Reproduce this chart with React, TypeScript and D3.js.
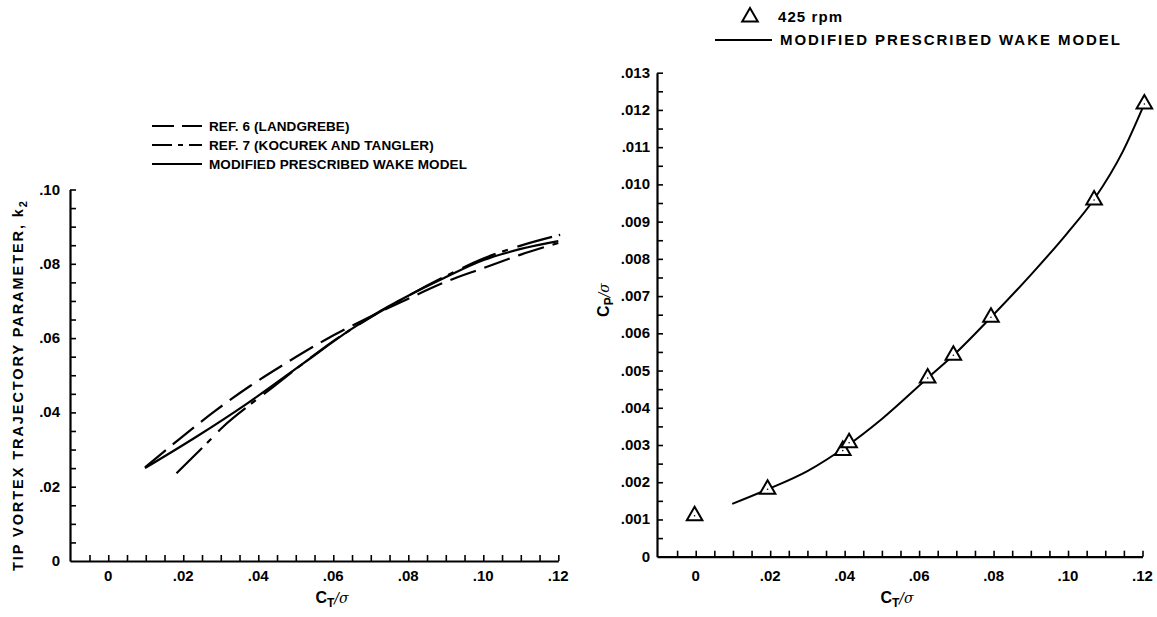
import React, { useEffect, useRef } from "react";
import * as d3 from "d3";

// ---- Left chart: tip vortex trajectory parameter k2 vs CT/sigma ----
const ref6Ct = [0.0098, 0.0187, 0.0285, 0.0378, 0.0476, 0.0578, 0.0689, 0.080, 0.0911, 0.0996, 0.1098, 0.1200];
const ref6K2 = [0.0252, 0.0326, 0.0404, 0.0471, 0.0534, 0.0595, 0.0653, 0.0706, 0.0756, 0.0787, 0.0824, 0.0856];
const ref7Ct = [0.0182, 0.0258, 0.0307, 0.0382, 0.0440, 0.0520, 0.0600, 0.0700, 0.0800, 0.0900, 0.1000, 0.1100, 0.1205];
const ref7K2 = [0.0236, 0.0312, 0.0362, 0.0424, 0.0469, 0.0532, 0.0592, 0.0656, 0.0714, 0.0767, 0.0814, 0.0849, 0.0878];
const wakeCt = [0.0098, 0.0236, 0.0369, 0.0520, 0.0645, 0.0707, 0.0800, 0.0894, 0.1001, 0.1100, 0.1200];
const wakeK2 = [0.0250, 0.0335, 0.0423, 0.0532, 0.0622, 0.0662, 0.0714, 0.0761, 0.0810, 0.0840, 0.0861];

const leftXTicks = [0, 0.02, 0.04, 0.06, 0.08, 0.10, 0.12];
const leftYTicks = [0, 0.02, 0.04, 0.06, 0.08, 0.10];
const leftLegend = ["REF. 6 (LANDGREBE)", "REF. 7 (KOCUREK AND TANGLER)", "MODIFIED PRESCRIBED WAKE MODEL"];

// ---- Right chart: CP/sigma vs CT/sigma ----
const rpmCt = [-0.0003, 0.0193, 0.0395, 0.0412, 0.0623, 0.0692, 0.0793, 0.1070, 0.1205];
const rpmCp = [0.00110, 0.00181, 0.00285, 0.00306, 0.00480, 0.00541, 0.00643, 0.00958, 0.01216];
const modelCt = [0.0098, 0.0193, 0.0300, 0.0404, 0.0500, 0.0623, 0.0692, 0.0793, 0.0900, 0.0997, 0.1070, 0.1148, 0.1205];
const modelCp = [0.00142, 0.00181, 0.00230, 0.00296, 0.00370, 0.00480, 0.00541, 0.00643, 0.00757, 0.00868, 0.00960, 0.01090, 0.01216];

const rightXTicks = [0, 0.02, 0.04, 0.06, 0.08, 0.10, 0.12];
const rightYTicks = [0, 0.001, 0.002, 0.003, 0.004, 0.005, 0.006, 0.007, 0.008, 0.009, 0.010, 0.011, 0.012, 0.013];
const rightLegend = ["425 rpm", "MODIFIED PRESCRIBED WAKE MODEL"];

const FONT = "'Liberation Sans', Arial, Helvetica, sans-serif";

function fmt(v: number, digits: number) {
  if (Math.abs(v) < 1e-12) return "0";
  return v.toFixed(digits).replace(/^0\./, ".");
}

export default function App() {
  const ref = useRef<SVGSVGElement | null>(null);

  useEffect(() => {
    const svg = d3.select(ref.current);
    svg.selectAll("*").remove();

    const W = 1157, H = 617;
    svg.append("rect").attr("width", W).attr("height", H).attr("fill", "#fff");

    // ---------------- LEFT ----------------
    const xL = d3.scaleLinear().domain([-0.0102, 0.12]).range([70, 558.3]);
    const yL = d3.scaleLinear().domain([0, 0.10]).range([561, 189.5]);
    const gL = svg.append("g");

    const minorXL = d3.range(-1, 25).map((k) => k * 0.005);
    const minorYL = d3.range(1, 21).map((k) => k * 0.005);

    const axXL = d3.axisBottom(xL).tickValues(minorXL).tickSizeInner(-6).tickSizeOuter(0).tickFormat(() => "");
    const axYL = d3.axisLeft(yL).tickValues(minorYL).tickSizeInner(-6).tickSizeOuter(0).tickFormat(() => "");
    const gxl = gL.append("g").attr("transform", `translate(0,${yL(0)})`).call(axXL);
    const gyl = gL.append("g").attr("transform", `translate(${xL(-0.0102)},0)`).call(axYL);
    [gxl, gyl].forEach((g) => {
      g.select(".domain").attr("stroke", "#000").attr("stroke-width", 2.2);
      g.selectAll(".tick line").attr("stroke", "#000").attr("stroke-width", 1.6);
    });

    gL.selectAll("text.xl").data(leftXTicks).enter().append("text")
      .attr("x", (d) => xL(d)).attr("y", 581).attr("text-anchor", "middle")
      .attr("font-family", FONT).attr("font-weight", "bold").attr("font-size", 15)
      .text((d) => fmt(d, 2));
    gL.selectAll("text.yl").data(leftYTicks).enter().append("text")
      .attr("x", 60).attr("y", (d) => yL(d) + 5).attr("text-anchor", "end")
      .attr("font-family", FONT).attr("font-weight", "bold").attr("font-size", 15)
      .text((d) => fmt(d, 2));

    // x title
    const tL = gL.append("text").attr("x", 332).attr("y", 603).attr("text-anchor", "middle")
      .attr("font-family", FONT).attr("font-weight", "bold");
    tL.append("tspan").attr("font-size", 16).text("C");
    tL.append("tspan").attr("font-size", 12).attr("dy", 4).text("T");
    tL.append("tspan").attr("font-size", 14).attr("dy", -4).attr("font-style", "italic")
      .attr("font-weight", "normal").attr("font-family", "'DejaVu Serif', serif").text("/σ");

    // y title
    const ytL = gL.append("text").attr("transform", `translate(23,${386}) rotate(-90)`)
      .attr("text-anchor", "middle").attr("font-family", FONT).attr("font-weight", "bold")
      .attr("font-size", 14.5).attr("textLength", 370).attr("lengthAdjust", "spacing");
    ytL.append("tspan").text("TIP VORTEX TRAJECTORY PARAMETER, k");
    ytL.append("tspan").attr("font-size", 11).attr("dy", 4).text("2");

    const lineL = d3.line<[number, number]>().x((d) => xL(d[0])).y((d) => yL(d[1])).curve(d3.curveMonotoneX);
    const ref6 = ref6Ct.map((c, i) => [c, ref6K2[i]] as [number, number]);
    const ref7 = ref7Ct.map((c, i) => [c, ref7K2[i]] as [number, number]);
    const wake = wakeCt.map((c, i) => [c, wakeK2[i]] as [number, number]);

    const styles = [
      { data: ref6, dash: "27,9" },
      { data: ref7, dash: "36,7,6,10" },
      { data: wake, dash: null as string | null },
    ];
    styles.forEach((s) => {
      const p = gL.append("path").attr("d", lineL(s.data)).attr("fill", "none")
        .attr("stroke", "#000").attr("stroke-width", 2.2);
      if (s.dash) p.attr("stroke-dasharray", s.dash);
    });

    // legend left
    const legDashes = ["22,8", "20,6,5,6", null];
    leftLegend.forEach((label, i) => {
      const y = 126 + i * 19;
      const l = gL.append("line").attr("x1", 152).attr("x2", 202).attr("y1", y).attr("y2", y)
        .attr("stroke", "#000").attr("stroke-width", 2);
      if (legDashes[i]) l.attr("stroke-dasharray", legDashes[i] as string);
      gL.append("text").attr("x", 209).attr("y", y + 5).attr("font-family", FONT)
        .attr("font-weight", "bold").attr("font-size", 13.5).attr("letter-spacing", 0.1).text(label);
    });

    // ---------------- RIGHT ----------------
    const xR = d3.scaleLinear().domain([-0.0104, 0.12]).range([657, 1142.5]);
    const yR = d3.scaleLinear().domain([0, 0.013]).range([556.7, 72.7]);
    const gR = svg.append("g");

    const minorXR = d3.range(-1, 25).map((k) => k * 0.005);
    const minorYR = d3.range(1, 27).map((k) => k * 0.0005);
    const axXR = d3.axisBottom(xR).tickValues(minorXR).tickSizeInner(-6).tickSizeOuter(0).tickFormat(() => "");
    const axYR = d3.axisLeft(yR).tickValues(minorYR).tickSizeInner(-6).tickSizeOuter(0).tickFormat(() => "");
    const gxr = gR.append("g").attr("transform", `translate(0,${yR(0)})`).call(axXR);
    const gyr = gR.append("g").attr("transform", `translate(${xR(-0.0104)},0)`).call(axYR);
    [gxr, gyr].forEach((g) => {
      g.select(".domain").attr("stroke", "#000").attr("stroke-width", 2.2);
      g.selectAll(".tick line").attr("stroke", "#000").attr("stroke-width", 1.6);
    });

    gR.selectAll("text.xr").data(rightXTicks).enter().append("text")
      .attr("x", (d) => xR(d)).attr("y", 581).attr("text-anchor", "middle")
      .attr("font-family", FONT).attr("font-weight", "bold").attr("font-size", 15)
      .text((d) => fmt(d, 2));
    gR.selectAll("text.yr").data(rightYTicks).enter().append("text")
      .attr("x", 650).attr("y", (d) => yR(d) + 5).attr("text-anchor", "end")
      .attr("font-family", FONT).attr("font-weight", "bold").attr("font-size", 15)
      .text((d) => fmt(d, 3));

    const tR = gR.append("text").attr("x", 897).attr("y", 603).attr("text-anchor", "middle")
      .attr("font-family", FONT).attr("font-weight", "bold");
    tR.append("tspan").attr("font-size", 16).text("C");
    tR.append("tspan").attr("font-size", 12).attr("dy", 4).text("T");
    tR.append("tspan").attr("font-size", 14).attr("dy", -4).attr("font-style", "italic")
      .attr("font-weight", "normal").attr("font-family", "'DejaVu Serif', serif").text("/σ");

    const ytR = gR.append("text").attr("transform", `translate(609,${300}) rotate(-90)`)
      .attr("text-anchor", "middle").attr("font-family", FONT).attr("font-weight", "bold");
    ytR.append("tspan").attr("font-size", 16).text("C");
    ytR.append("tspan").attr("font-size", 12).attr("dy", 4).text("P");
    ytR.append("tspan").attr("font-size", 14).attr("dy", -4).attr("font-style", "italic")
      .attr("font-weight", "normal").attr("font-family", "'DejaVu Serif', serif").text("/σ");

    const lineR = d3.line<[number, number]>().x((d) => xR(d[0])).y((d) => yR(d[1])).curve(d3.curveMonotoneX);
    const model = modelCt.map((c, i) => [c, modelCp[i]] as [number, number]);
    gR.append("path").attr("d", lineR(model)).attr("fill", "none").attr("stroke", "#000").attr("stroke-width", 2);

    const tri = d3.symbol().type(d3.symbolTriangle).size(105);
    const pts = rpmCt.map((c, i) => [c, rpmCp[i]] as [number, number]);
    const gp = gR.selectAll("g.pt").data(pts).enter().append("g")
      .attr("transform", (d) => `translate(${xR(d[0])},${yR(d[1])})`);
    gp.append("path").attr("d", tri() as string).attr("fill", "#fff").attr("stroke", "#000").attr("stroke-width", 2);
    gp.append("circle").attr("r", 0.8).attr("fill", "#000");

    // legend right
    gR.append("path").attr("d", tri() as string).attr("transform", "translate(750,17)")
      .attr("fill", "#fff").attr("stroke", "#000").attr("stroke-width", 2);
    gR.append("text").attr("x", 778).attr("y", 22).attr("font-family", FONT).attr("font-weight", "bold")
      .attr("font-size", 15).attr("textLength", 64).attr("lengthAdjust", "spacing").text(rightLegend[0]);
    gR.append("line").attr("x1", 715).attr("x2", 772).attr("y1", 40).attr("y2", 40)
      .attr("stroke", "#000").attr("stroke-width", 2);
    gR.append("text").attr("x", 780).attr("y", 45).attr("font-family", FONT).attr("font-weight", "bold")
      .attr("font-size", 15).attr("textLength", 340).attr("lengthAdjust", "spacing").text(rightLegend[1]);
  }, []);

  return (
    <svg ref={ref} width={1157} height={617} style={{ position: "absolute", left: 0, top: 0 }} />
  );
}
